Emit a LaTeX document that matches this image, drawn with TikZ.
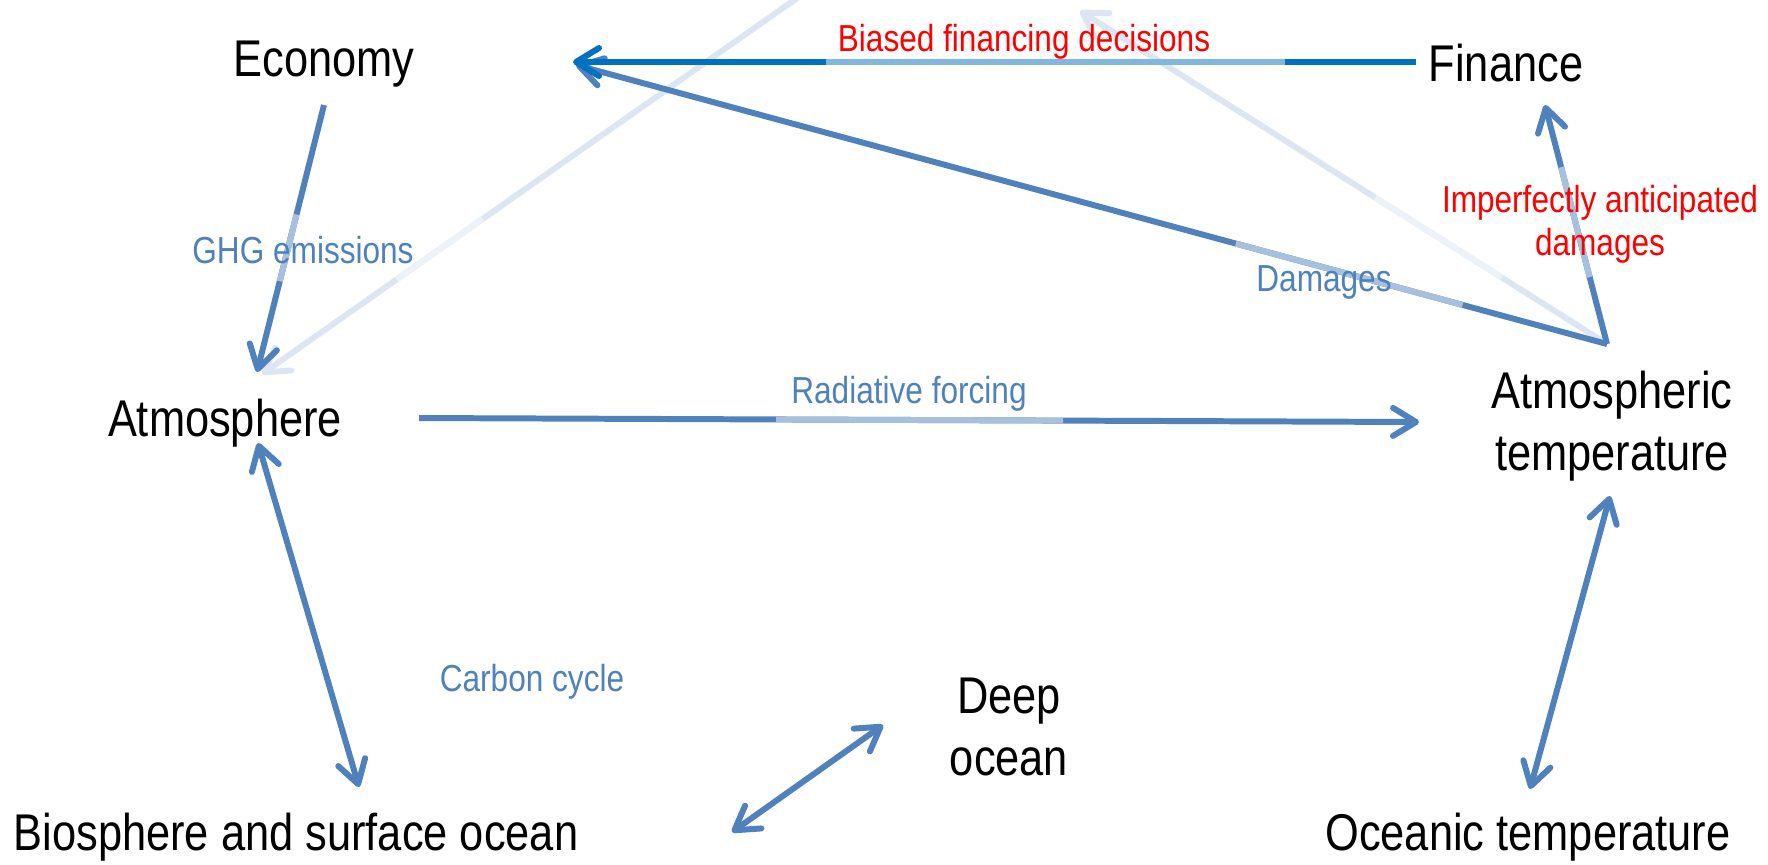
\documentclass[tikz,border=0pt]{standalone}
\usepackage{fontspec}
\setmainfont{Liberation Sans}
\usetikzlibrary{positioning,arrows.meta,calc}
\definecolor{flowblue}{HTML}{4F81BD}
\definecolor{finblue}{HTML}{0070C0}
\tikzset{
  >={Straight Barb[length=2.3mm,width=2.8mm,round]},
  box/.style={font=\fontsize{14.7}{17.6}\selectfont,xscale=0.84,align=center,inner sep=0pt},
  lbl/.style={font=\fontsize{10.7}{12.2}\selectfont,xscale=0.84,align=center,inner sep=0pt,text=flowblue},
  redlbl/.style={lbl,text=red},
  flow/.style={->,draw=flowblue,line width=1.7pt},
  lite/.style={draw=flowblue!50,line width=1.7pt},
  finflow/.style={flow,draw=finblue},
  finlite/.style={lite,draw=finblue!50},
  ghost/.style={flow,draw=flowblue!20},
  ghostlite/.style={lite,draw=flowblue!10},
}
\begin{document}
\begin{tikzpicture}[x=0.1mm,y=-0.1mm]
  \useasboundingbox (0,0) rectangle (1768,864);
  % boxes of the model
  \node[box] (eco) at (324,64) {Economy};
  \node[box] (fin) at (1506,63) {Finance};
  \node[box] (atm) at (225,423) {Atmosphere};
  \node[box] (atemp) at (1612,426) {Atmospheric\\temperature};
  \node[box] (bio) at (296,837) {Biosphere and surface ocean};
  \node[box] (deep) at (1009,727) {Deep\\ocean};
  \node[box] (otemp) at (1528,837) {Oceanic temperature};
  \coordinate (topA) at (800,-4);
  \coordinate (topB) at (1080,11);
  % faded arrows in the back
  \draw[ghost] (topA) -- coordinate[pos=0.59] (f1) coordinate[pos=0.75] (f2) ($(atm)+(37,-49)$);
  \draw[ghostlite] (f1) -- (f2);
  \draw[ghost] ($(atemp)+(-5,-82)$) -- coordinate[pos=0.2] (f3) coordinate[pos=0.44] (f4) (topB);
  \draw[ghostlite] (f3) -- (f4);
  % climate--economy loop
  \draw[flow] ($(eco)+(0,41)$) -- coordinate[pos=0.41] (g1) coordinate[pos=0.66] (g2) ($(atm)+(32,-51)$);
  \draw[lite] (g1) -- (g2);
  \draw[flow] ($(atm)+(194,-5)$) -- coordinate[pos=0.357] (r1) coordinate[pos=0.644] (r2) ($(atemp)+(-193,-4)$);
  \draw[lite] (r1) -- (r2);
  \draw[flow] ($(atemp)+(-5,-82)$) -- coordinate[pos=0.14] (d1) coordinate[pos=0.36] (d2) ($(eco)+(252,1)$);
  \draw[lite] (d1) -- (d2);
  \draw[flow] ($(atemp)+(-5,-82)$) -- coordinate[pos=0.28] (i1) coordinate[pos=0.74] (i2) ($(fin)+(39,42)$);
  \draw[lite] (i1) -- (i2);
  \draw[finflow] ($(fin)+(-90,-1)$) -- coordinate[pos=0.155] (b1) coordinate[pos=0.70] (b2) ($(eco)+(249,-2)$);
  \draw[finlite] (b1) -- (b2);
  % exchanges
  \draw[flow,<->] ($(atm)+(33,20)$) -- ($(bio)+(63,-50)$);
  \draw[flow,<->] ($(bio)+(436,-5)$) -- ($(deep)+(-126,-2)$);
  \draw[flow,<->] ($(atemp)+(-2,70)$) -- ($(otemp)+(2,-48)$);
  % labels
  \node[redlbl] (bfd) at (1024,42) {Biased financing decisions};
  \node[lbl] (ghg) at (303,250) {GHG emissions};
  \node[lbl] (dam) at (1324,282) {Damages};
  \node[redlbl] (ipd) at (1600,224) {Imperfectly anticipated\\damages};
  \node[lbl] (rad) at (909,394) {Radiative forcing};
  \node[lbl] (cc) at (532,682) {Carbon cycle};
\end{tikzpicture}
\end{document}
